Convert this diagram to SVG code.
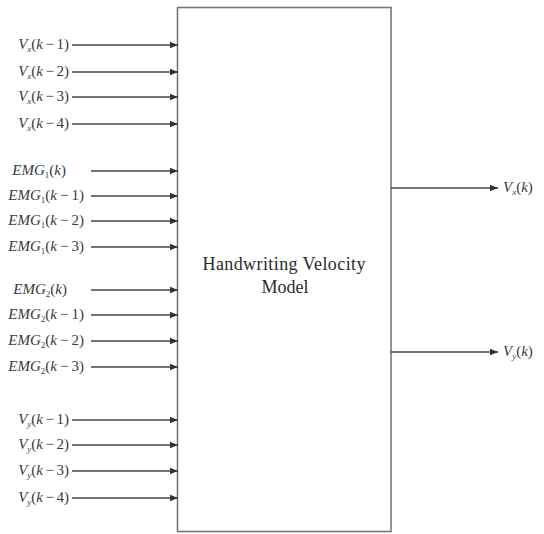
<svg xmlns="http://www.w3.org/2000/svg" width="544" height="534" viewBox="0 0 544 534">
<defs>
<marker id="ah" markerUnits="userSpaceOnUse" markerWidth="8" markerHeight="8" viewBox="0 0 8 8" refX="8" refY="4" orient="auto">
<path d="M0,0.8 L8,4 L0,7.2 Z" fill="#333"/>
</marker>
<style>
.lbl{font-family:"Liberation Serif","Times New Roman",serif;font-size:15px;fill:#3a3a3a;text-anchor:end}
.out{font-family:"Liberation Serif","Times New Roman",serif;font-size:15px;fill:#3a3a3a}
.it{font-style:italic}
.sub{font-size:9px;font-style:italic}
.sub1{font-size:9px}
.title{font-family:"Liberation Serif","Times New Roman",serif;font-size:18px;fill:#2a2a2a;text-anchor:middle}
.conn{stroke:#444;stroke-width:1.4;fill:none;marker-end:url(#ah)}
.box{fill:#fff;stroke:#777;stroke-width:1.6}
</style>
</defs>
<rect width="544" height="534" fill="#fff"/>

<g id="model">
<rect class="box" x="177.5" y="7.5" width="213.5" height="524"/>
<text class="title" x="284" y="270" textLength="163" lengthAdjust="spacing">Handwriting Velocity</text>
<text class="title" x="285" y="293">Model</text>
</g>

<g id="connectors">
<line class="conn" x1="72" y1="45" x2="178" y2="45"/>
<line class="conn" x1="72" y1="72" x2="178" y2="72"/>
<line class="conn" x1="72" y1="97" x2="178" y2="97"/>
<line class="conn" x1="72" y1="124" x2="178" y2="124"/>
<line class="conn" x1="91" y1="171" x2="178" y2="171"/>
<line class="conn" x1="91" y1="196" x2="178" y2="196"/>
<line class="conn" x1="91" y1="221" x2="178" y2="221"/>
<line class="conn" x1="91" y1="247" x2="178" y2="247"/>
<line class="conn" x1="91" y1="290" x2="178" y2="290"/>
<line class="conn" x1="91" y1="315" x2="178" y2="315"/>
<line class="conn" x1="91" y1="341" x2="178" y2="341"/>
<line class="conn" x1="91" y1="367" x2="178" y2="367"/>
<line class="conn" x1="72" y1="420" x2="178" y2="420"/>
<line class="conn" x1="72" y1="445" x2="178" y2="445"/>
<line class="conn" x1="72" y1="471" x2="178" y2="471"/>
<line class="conn" x1="72" y1="498" x2="178" y2="498"/>
<line class="conn" x1="391" y1="188" x2="498" y2="188"/>
<line class="conn" x1="391" y1="352" x2="498" y2="352"/>
</g>

<g id="in-vx">
<text class="lbl" x="69" y="49"><tspan class="it">V</tspan><tspan class="sub" dy="3">x</tspan><tspan dy="-3">(</tspan><tspan class="it">k</tspan><tspan dx="2.5">−</tspan><tspan dx="2.5">1)</tspan></text>
<text class="lbl" x="69" y="76"><tspan class="it">V</tspan><tspan class="sub" dy="3">x</tspan><tspan dy="-3">(</tspan><tspan class="it">k</tspan><tspan dx="2.5">−</tspan><tspan dx="2.5">2)</tspan></text>
<text class="lbl" x="69" y="101"><tspan class="it">V</tspan><tspan class="sub" dy="3">x</tspan><tspan dy="-3">(</tspan><tspan class="it">k</tspan><tspan dx="2.5">−</tspan><tspan dx="2.5">3)</tspan></text>
<text class="lbl" x="69" y="128"><tspan class="it">V</tspan><tspan class="sub" dy="3">x</tspan><tspan dy="-3">(</tspan><tspan class="it">k</tspan><tspan dx="2.5">−</tspan><tspan dx="2.5">4)</tspan></text>
</g>

<g id="in-emg1">
<text class="lbl" x="66" y="175"><tspan class="it">EMG</tspan><tspan class="sub1" dy="3">1</tspan><tspan dy="-3">(</tspan><tspan class="it">k</tspan>)</text>
<text class="lbl" x="84" y="200"><tspan class="it">EMG</tspan><tspan class="sub1" dy="3">1</tspan><tspan dy="-3">(</tspan><tspan class="it">k</tspan><tspan dx="3">−</tspan><tspan dx="3">1)</tspan></text>
<text class="lbl" x="84" y="225"><tspan class="it">EMG</tspan><tspan class="sub1" dy="3">1</tspan><tspan dy="-3">(</tspan><tspan class="it">k</tspan><tspan dx="3">−</tspan><tspan dx="3">2)</tspan></text>
<text class="lbl" x="84" y="251"><tspan class="it">EMG</tspan><tspan class="sub1" dy="3">1</tspan><tspan dy="-3">(</tspan><tspan class="it">k</tspan><tspan dx="3">−</tspan><tspan dx="3">3)</tspan></text>
</g>

<g id="in-emg2">
<text class="lbl" x="67" y="294"><tspan class="it">EMG</tspan><tspan class="sub1" dy="3">2</tspan><tspan dy="-3">(</tspan><tspan class="it">k</tspan>)</text>
<text class="lbl" x="84" y="319"><tspan class="it">EMG</tspan><tspan class="sub1" dy="3">2</tspan><tspan dy="-3">(</tspan><tspan class="it">k</tspan><tspan dx="3">−</tspan><tspan dx="3">1)</tspan></text>
<text class="lbl" x="84" y="345"><tspan class="it">EMG</tspan><tspan class="sub1" dy="3">2</tspan><tspan dy="-3">(</tspan><tspan class="it">k</tspan><tspan dx="3">−</tspan><tspan dx="3">2)</tspan></text>
<text class="lbl" x="84" y="371"><tspan class="it">EMG</tspan><tspan class="sub1" dy="3">2</tspan><tspan dy="-3">(</tspan><tspan class="it">k</tspan><tspan dx="3">−</tspan><tspan dx="3">3)</tspan></text>
</g>

<g id="in-vy">
<text class="lbl" x="69" y="424"><tspan class="it">V</tspan><tspan class="sub" dy="3">y</tspan><tspan dy="-3">(</tspan><tspan class="it">k</tspan><tspan dx="2.5">−</tspan><tspan dx="2.5">1)</tspan></text>
<text class="lbl" x="69" y="449"><tspan class="it">V</tspan><tspan class="sub" dy="3">y</tspan><tspan dy="-3">(</tspan><tspan class="it">k</tspan><tspan dx="2.5">−</tspan><tspan dx="2.5">2)</tspan></text>
<text class="lbl" x="69" y="475"><tspan class="it">V</tspan><tspan class="sub" dy="3">y</tspan><tspan dy="-3">(</tspan><tspan class="it">k</tspan><tspan dx="2.5">−</tspan><tspan dx="2.5">3)</tspan></text>
<text class="lbl" x="69" y="502"><tspan class="it">V</tspan><tspan class="sub" dy="3">y</tspan><tspan dy="-3">(</tspan><tspan class="it">k</tspan><tspan dx="2.5">−</tspan><tspan dx="2.5">4)</tspan></text>
</g>

<g id="out-vx">
<text class="out" x="503" y="192"><tspan class="it">V</tspan><tspan class="sub" dy="3">x</tspan><tspan dy="-3">(</tspan><tspan class="it">k</tspan>)</text>
</g>
<g id="out-vy">
<text class="out" x="503" y="356"><tspan class="it">V</tspan><tspan class="sub" dy="3">y</tspan><tspan dy="-3">(</tspan><tspan class="it">k</tspan>)</text>
</g>
</svg>
